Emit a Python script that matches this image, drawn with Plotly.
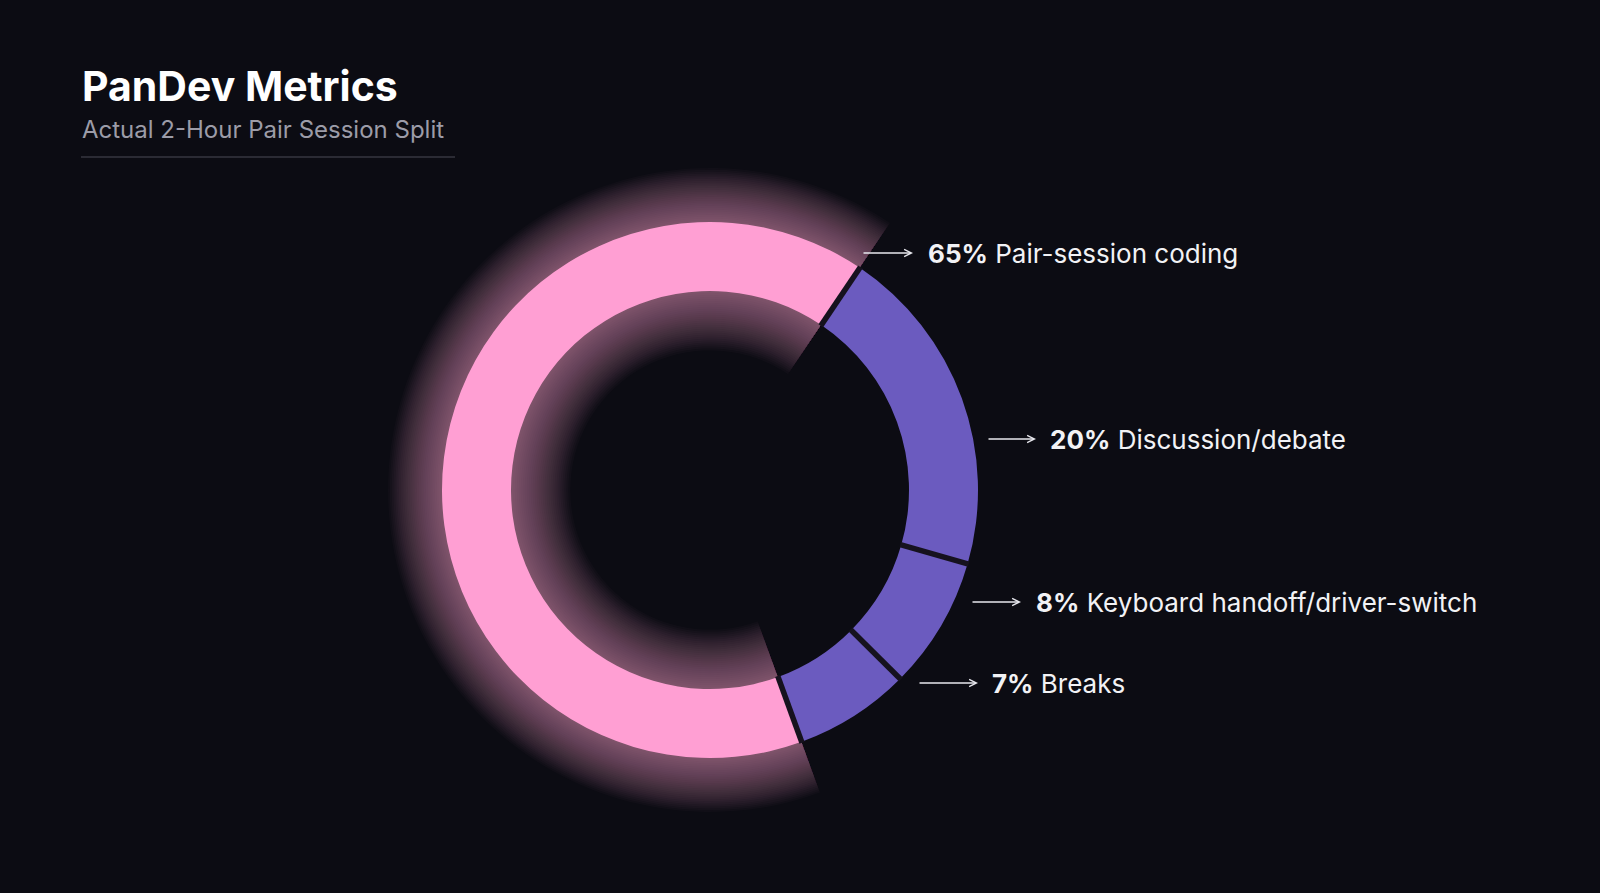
import math
import plotly.graph_objects as go

# ---- data ----
categories = ["Pair-session coding", "Discussion/debate", "Keyboard handoff/driver-switch", "Breaks"]
values = [65, 20, 8, 7]
title_text = "PanDev Metrics"
subtitle_text = "Actual 2-Hour Pair Session Split"

# ---- styles ----
W, H = 1600, 893
BG = "#0c0c13"
slice_colors = ["#ff9fd3", "#6b5bbf", "#6b5bbf", "#6b5bbf"]
glow_rgb = [(255, 150, 210), (130, 100, 200), (130, 100, 200), (130, 100, 200)]
glow_alpha = [0.025, 0.0, 0.0, 0.0]
ROT = 160
CX, CY = 710, 490        # pixel centre of the donut
R_OUT, R_IN = 268, 199   # pixel radii

label_y_px = [253, 439, 602, 683]
arrow_x0_px = [862, 987, 971, 918]
arrow_x1_px = [913, 1036, 1021, 978]
text_x_px = [926, 1048, 1034, 990]


def dom(r):
    return dict(x=[(CX - r) / W, (CX + r) / W],
                y=[(H - CY - r) / H, (H - CY + r) / H])


fig = go.Figure()

# glow layers
N = 30
STEP = 1.8
for k in range(N, 0, -1):
    ro = R_OUT + k * STEP
    ri = max(R_IN - k * STEP * 1.1, 1)
    cols = [f"rgba({r},{g},{b},{a})" for (r, g, b), a in zip(glow_rgb, glow_alpha)]
    fig.add_trace(go.Pie(
        labels=categories, values=values, sort=False, direction="clockwise",
        rotation=ROT, hole=ri / ro, domain=dom(ro),
        marker=dict(colors=cols, line=dict(width=0)),
        textinfo="none", hoverinfo="skip", showlegend=False))

# main donut
fig.add_trace(go.Pie(
    labels=categories, values=values, sort=False, direction="clockwise",
    rotation=ROT, hole=R_IN / R_OUT, domain=dom(R_OUT),
    marker=dict(colors=slice_colors, line=dict(width=0)),
    textinfo="none", hoverinfo="label+percent", showlegend=False))

# separators between slices (angles derived from the values)
shapes = []
total = sum(values)
cum = 0
for v in values:
    ang = math.radians(ROT + 360 * cum / total)
    cum += v
    p0 = (CX + (R_IN - 1) * math.sin(ang), CY - (R_IN - 1) * math.cos(ang))
    p1 = (CX + (R_OUT + 1) * math.sin(ang), CY - (R_OUT + 1) * math.cos(ang))
    shapes.append(dict(type="line", xref="paper", yref="paper",
                       x0=p0[0] / W, y0=1 - p0[1] / H, x1=p1[0] / W, y1=1 - p1[1] / H,
                       line=dict(color="#16121e", width=5.5)))

shapes.append(dict(type="line", xref="paper", yref="paper",
                   x0=81 / W, x1=455 / W, y0=1 - 157 / H, y1=1 - 157 / H,
                   line=dict(color="#4a4a56", width=1)))

annotations = []
for c, v, y, x0, x1, tx in zip(categories, values, label_y_px, arrow_x0_px, arrow_x1_px, text_x_px):
    annotations.append(dict(
        x=x1 / W, y=1 - y / H, xref="paper", yref="paper",
        ax=x0 - x1, ay=0, axref="pixel", ayref="pixel",
        text="", showarrow=True, arrowhead=5, arrowsize=1.1, arrowwidth=1.3,
        arrowcolor="#e8e8ee"))
    annotations.append(dict(
        x=tx / W, y=1 - y / H, xref="paper", yref="paper",
        xanchor="left", yanchor="middle", showarrow=False,
        text=f"<b>{v}%</b> {c}",
        font=dict(family="Inter, Lato, sans-serif", size=26, color="#f2f2f5")))

annotations.append(dict(
    x=80 / W, y=1 - 86 / H, xref="paper", yref="paper", xanchor="left", yanchor="middle",
    showarrow=False, text=f"<b>{title_text}</b>",
    font=dict(family="Inter, Lato, sans-serif", size=41, color="#ffffff")))
annotations.append(dict(
    x=80 / W, y=1 - 130 / H, xref="paper", yref="paper", xanchor="left", yanchor="middle",
    showarrow=False, text=subtitle_text,
    font=dict(family="Inter, Lato, sans-serif", size=24, color="#9c9ca8")))

fig.update_layout(
    width=W, height=H,
    paper_bgcolor=BG, plot_bgcolor=BG,
    margin=dict(l=0, r=0, t=0, b=0),
    annotations=annotations,
    shapes=shapes,
)

fig.write_html(
    "out.html",
    config={"displayModeBar": False},
    post_script="document.body.style.margin='0';document.body.style.background='%s';" % BG,
)
